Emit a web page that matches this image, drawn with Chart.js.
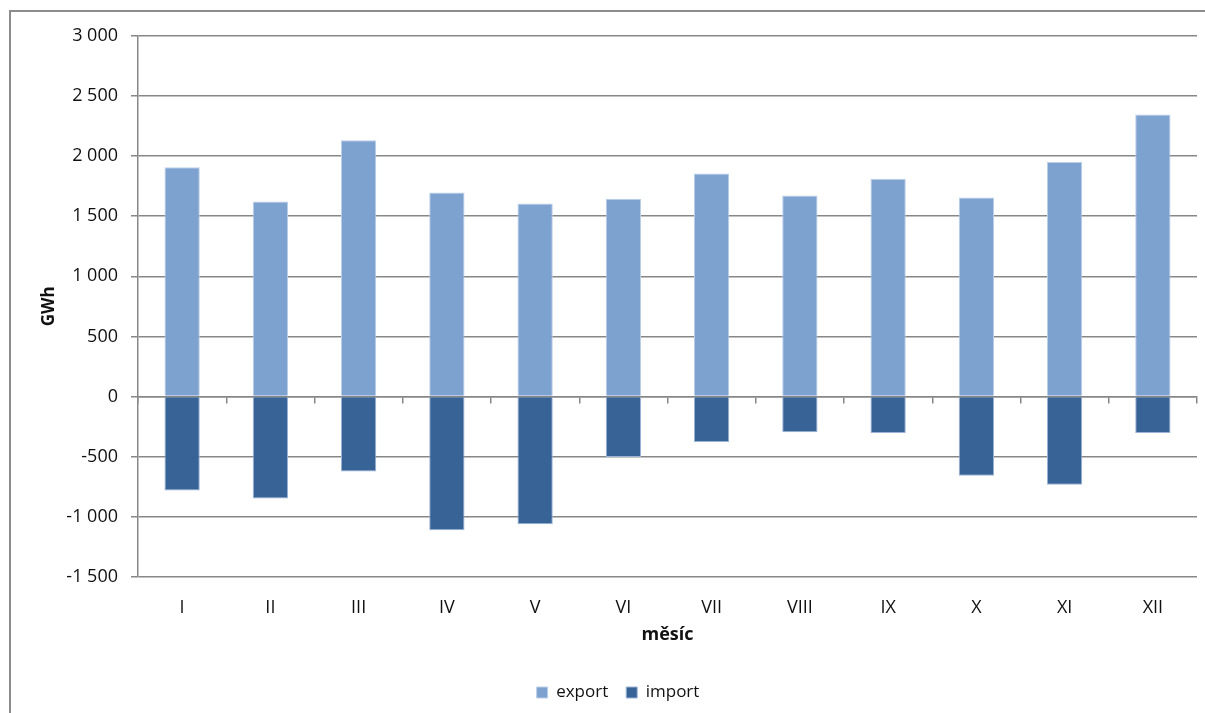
<!DOCTYPE html>
<html lang="cs">
<head>
  <meta charset="UTF-8">
  <title>Export a import elektřiny</title>
  <script src="https://cdn.jsdelivr.net/npm/chart.js"></script>
  <style>
    body { margin: 0; background: #fff; }
    .frame {
      position: absolute;
      left: 9px;
      top: 10px;
      width: 1196px;
      height: 703px;
      border-left: 2px solid #8c8c8c;
      border-top: 2px solid #8c8c8c;
    }
  </style>
</head>
<body>
  <div class="frame">
    <canvas id="chart"></canvas>
  </div>

  <script>
    // months (Roman numerals) and values in GWh
    const months = ['I', 'II', 'III', 'IV', 'V', 'VI', 'VII', 'VIII', 'IX', 'X', 'XI', 'XII'];
    const exportValues = [1908, 1623, 2131, 1697, 1606, 1645, 1856, 1672, 1811, 1656, 1950, 2345];
    const importValues = [-781, -847, -622, -1111, -1061, -503, -378, -297, -303, -658, -733, -303];
    const yTicks = [-1500, -1000, -500, 0, 500, 1000, 1500, 2000, 2500, 3000];

    const gridColor = '#878787';
    const textColor = '#111';
    const fontFamily = '"Open Sans", "Liberation Sans", sans-serif';

    // 3000 -> "3 000"
    function formatNumber(num) {
      return num.toString().replace(/\B(?=(\d{3})+(?!\d))/g, ' ');
    }

    Chart.defaults.font.family = fontFamily;
    Chart.defaults.color = textColor;

    new Chart(document.getElementById('chart'), {
      type: 'bar',
      data: {
        labels: months,
        datasets: [
          {
            label: 'export',
            data: exportValues,
            backgroundColor: '#7ea2d0',
            borderColor: '#bccfe8',
            borderWidth: 1,
            barPercentage: 0.4,
            categoryPercentage: 1.0
          },
          {
            label: 'import',
            data: importValues,
            backgroundColor: '#376397',
            borderColor: '#9cb4d6',
            borderWidth: 1,
            barPercentage: 0.4,
            categoryPercentage: 1.0
          }
        ]
      },
      options: {
        responsive: true,
        maintainAspectRatio: false,
        animation: false,
        layout: {
          padding: { left: 28, right: 10, top: 22, bottom: 4 }
        },
        plugins: {
          tooltip: { enabled: false },
          legend: {
            position: 'bottom',
            labels: {
              boxWidth: 11,
              boxHeight: 11,
              padding: 18,
              font: { size: 17 },
              color: textColor
            }
          }
        },
        scales: {
          x: {
            stacked: true,
            offset: true,
            grid: { display: false, offset: true },
            border: { display: false },
            ticks: { padding: 12, font: { size: 18 }, maxRotation: 0 },
            title: {
              display: true,
              text: 'měsíc',
              font: { size: 18, weight: 'bold' },
              padding: { top: 6, bottom: 20 }
            },
            afterFit: function(scale) { scale.height = 89; }
          },
          // axis line with tick marks along zero
          x2: {
            type: 'category',
            labels: months,
            position: { y: 0 },
            offset: true,
            grid: {
              offset: true,
              drawOnChartArea: false,
              drawTicks: true,
              tickLength: 6,
              color: gridColor,
              lineWidth: 1.5
            },
            border: { display: true, color: gridColor, width: 1.5 },
            ticks: { display: false }
          },
          y: {
            stacked: true,
            min: -1500,
            max: 3000,
            afterBuildTicks: function(scale) {
              scale.ticks = yTicks.map(v => ({ value: v }));
            },
            grid: {
              color: gridColor,
              lineWidth: 1.5,
              tickLength: 7
            },
            border: { display: true, color: gridColor, width: 1.5 },
            ticks: {
              padding: 13,
              font: { size: 18 },
              callback: function(value) { return formatNumber(value); }
            },
            title: {
              display: true,
              text: 'GWh',
              font: { size: 17, weight: 'bold' },
              padding: { top: 0, bottom: 0 }
            },
            afterFit: function(scale) { scale.width = 99; }
          }
        }
      }
    });
  </script>
</body>
</html>
